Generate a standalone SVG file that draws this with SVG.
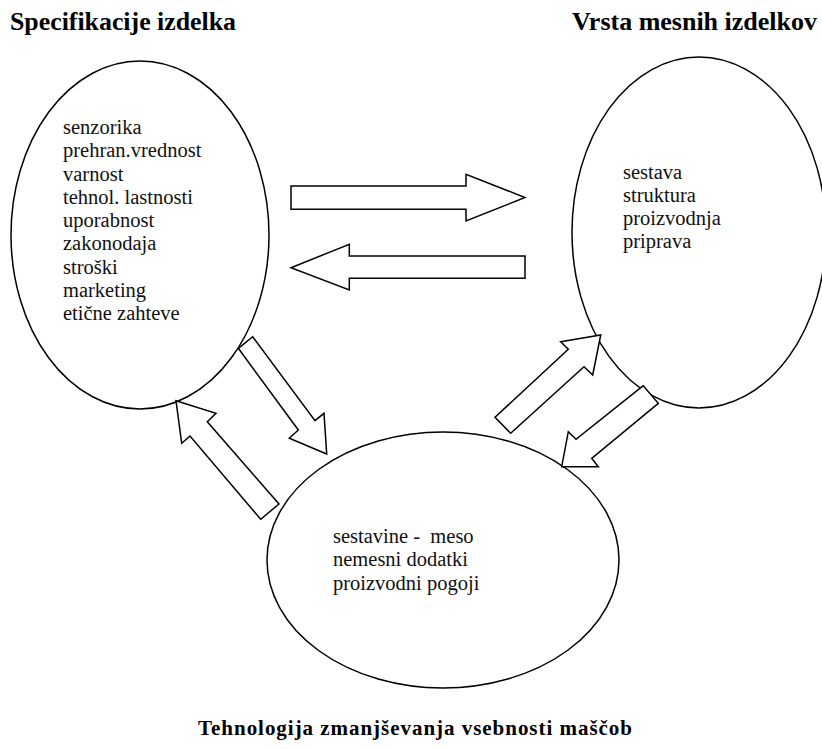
<svg xmlns="http://www.w3.org/2000/svg" width="822" height="749" viewBox="0 0 822 749">
<style>
  .bg { fill: #ffffff; }
  .node { fill: #ffffff; stroke: #000000; stroke-width: 1.5; }
  .arrow { fill: #ffffff; stroke: #000000; stroke-width: 1.5; stroke-linejoin: miter; }
  .body { font-size: 20.5px; fill: #111111; white-space: pre; }
  .title { font-weight: bold; fill: #000000; }
</style>
<rect class="bg" x="0" y="0" width="822" height="749"/>

<g font-family="Liberation Serif, Times New Roman, serif">
<g id="title-spec"><text class="title" x="10" y="30" font-size="25" textLength="226" lengthAdjust="spacingAndGlyphs">Specifikacije izdelka</text></g>
<g id="title-vrsta"><text class="title" x="572" y="30" font-size="25" textLength="245" lengthAdjust="spacingAndGlyphs">Vrsta mesnih izdelkov</text></g>
<g id="title-tehno"><text class="title" x="198" y="735" font-size="21" textLength="434" lengthAdjust="spacing">Tehnologija zmanjševanja vsebnosti maščob</text></g>

<g id="node-spec">
  <ellipse class="node" cx="140" cy="235" rx="129" ry="174"/>
  <text class="body" x="63" y="134">senzorika</text>
  <text class="body" x="63" y="157.3">prehran.vrednost</text>
  <text class="body" x="63" y="180.5">varnost</text>
  <text class="body" x="63" y="203.8">tehnol. lastnosti</text>
  <text class="body" x="63" y="227">uporabnost</text>
  <text class="body" x="63" y="250.3">zakonodaja</text>
  <text class="body" x="63" y="273.5">stroški</text>
  <text class="body" x="63" y="296.8">marketing</text>
  <text class="body" x="63" y="320">etične zahteve</text>
</g>

<g id="node-vrsta">
  <ellipse class="node" cx="699" cy="232.5" rx="127" ry="175.5"/>
  <text class="body" x="623" y="178.5">sestava</text>
  <text class="body" x="623" y="201.8">struktura</text>
  <text class="body" x="623" y="225">proizvodnja</text>
  <text class="body" x="623" y="248.3">priprava</text>
</g>

<g id="node-tehno">
  <ellipse class="node" cx="443" cy="560" rx="176" ry="128"/>
  <text class="body" x="333" y="543">sestavine -  meso</text>
  <text class="body" x="333" y="566.3">nemesni dodatki</text>
  <text class="body" x="333" y="589.6">proizvodni pogoji</text>
</g>
</g>

<g id="connectors">
  <polygon class="arrow" points="291,186 466,186 466,174.3 525,197.5 466,221 466,209.3 291,209.3"/>
  <polygon class="arrow" points="525,256 349.3,256 349.3,244.3 291,267.7 349.3,290 349.3,278.3 525,278.3"/>
  <polygon class="arrow" points="238.3,348.3 298.3,430 289.3,438.3 326.7,454 324,413.3 315,420.7 252.7,336.7"/>
  <polygon class="arrow" points="176,400.7 216,413.3 207.3,421.7 279,504 260.7,519.3 190,436 181.7,443.3"/>
  <polygon class="arrow" points="600.7,335 592.7,375 584,366.7 510.7,433.3 495,417.3 568.3,349.3 560.7,341.7"/>
  <polygon class="arrow" points="643.3,385.7 576,439.3 568.3,431.7 561.7,466.7 598.3,466.7 591.7,458.3 658.3,403.3"/>
</g>
</svg>
